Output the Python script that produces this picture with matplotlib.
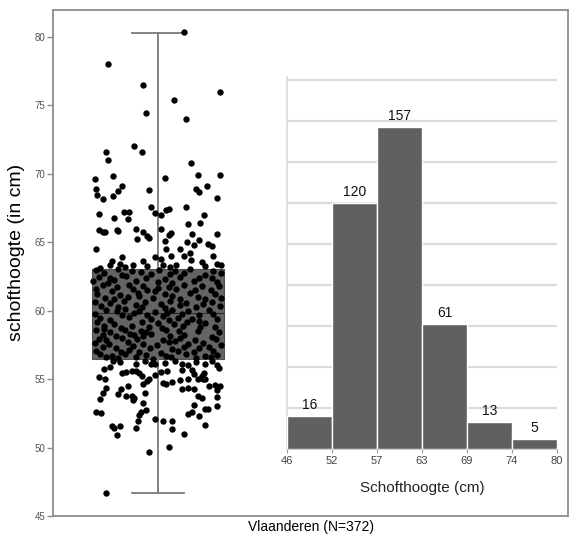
import matplotlib
matplotlib.use('Agg')
import matplotlib.pyplot as plt
import numpy as np

plt.rcParams['font.family'] = ['Liberation Sans', 'DejaVu Sans']

# ---------------- data ----------------
group_label = 'Vlaanderen (N=372)'
y_label = 'schofthoogte (in cm)'
hist_label = 'Schofthoogte (cm)'

# box plot statistics
box_q1, box_median, box_q3 = 56.45, 59.85, 63.05
whisker_low, whisker_high = 46.7, 80.3

# histogram
bin_labels = ['46', '52', '57', '63', '69', '74', '80']
bin_counts = [16, 120, 157, 61, 13, 5]

# individual observations: (height in cm, horizontal jitter in box widths)
dots_high = [
    (80.34, 0.20), (78.0, -0.38), (76.5, -0.11), (75.96, 0.47), (75.4, 0.12),
    (74.4, -0.09), (74.0, 0.21), (72.04, -0.18), (71.6, -0.39), (71.6, -0.12),
    (71.0, -0.38), (70.77, 0.25),
    (69.58, -0.48), (69.8, -0.34), (69.68, 0.05), (69.9, 0.30), (69.9, 0.47),
    (68.92, -0.47), (68.46, -0.46), (68.17, -0.42), (68.39, -0.34), (68.73, -0.30),
    (69.14, -0.27), (68.8, -0.07), (68.92, 0.29), (68.63, 0.31), (69.07, 0.37),
    (68.26, 0.45),
    (67.05, -0.45), (66.76, -0.33), (67.17, -0.26), (67.17, -0.22), (66.73, -0.23),
    (67.56, -0.05), (67.1, -0.02), (67.0, 0.02), (67.34, 0.06), (67.39, 0.08),
    (67.56, 0.21), (66.3, 0.23), (67.02, 0.35), (66.39, 0.32),
    (65.9, -0.45), (65.78, -0.42), (65.73, -0.40), (65.9, -0.31), (65.83, -0.30),
    (66.0, -0.17), (65.78, -0.11), (65.22, -0.16), (65.48, -0.08), (65.27, -0.07),
    (65.95, 0.02), (65.12, 0.05), (65.55, 0.08), (65.66, 0.10), (65.0, 0.22),
    (64.8, 0.27), (65.15, 0.31), (65.6, 0.26), (65.6, 0.45),
    (64.49, -0.47), (64.49, 0.06), (64.0, 0.10), (64.49, 0.17), (64.24, 0.24),
    (64.88, 0.38), (64.73, 0.41), (63.98, 0.42), (64.0, 0.20), (63.9, -0.02),
    (63.76, 0.02), (63.9, -0.27), (63.59, -0.35), (63.44, -0.29), (63.59, -0.11),
    (63.7, 0.25), (63.54, 0.33), (63.42, 0.45),
    (63.3, -0.36), (63.2, -0.25), (63.35, -0.19), (63.25, -0.08), (63.3, 0.04),
    (63.2, 0.09), (63.35, 0.14), (63.25, 0.36), (63.3, 0.48), (63.15, -0.44),
]

dots_box = [
    (62.95, -0.47), (63.02, -0.30), (62.9, -0.20), (63.0, 0.01), (62.93, 0.13), (63.01, 0.24), (62.88, 0.42),
    (62.75, -0.41), (62.62, -0.27), (62.8, -0.13), (62.7, -0.05), (62.66, 0.09), (62.78, 0.20), (62.6, 0.36), (62.72, 0.48),
    (62.45, -0.45), (62.35, -0.36), (62.5, -0.24), (62.4, -0.09), (62.3, 0.05), (62.48, 0.17), (62.38, 0.31), (62.42, 0.41),
    (62.15, -0.49), (62.05, -0.38), (62.2, -0.17), (62.1, 0.00), (62.0, 0.11), (62.18, 0.27), (62.08, 0.45),
    (61.85, -0.42), (61.75, -0.31), (61.9, -0.22), (61.8, -0.11), (61.7, 0.08), (61.88, 0.20), (61.78, 0.33), (61.82, 0.46),
    (61.55, -0.47), (61.45, -0.35), (61.6, -0.19), (61.5, -0.08), (61.42, -0.02), (61.58, 0.14), (61.48, 0.28), (61.52, 0.40),
    (61.25, -0.46), (61.15, -0.29), (61.3, -0.15), (61.2, 0.05), (61.1, 0.11), (61.28, 0.24), (61.18, 0.43),
    (60.95, -0.40), (60.85, -0.33), (61.0, -0.23), (60.9, -0.04), (60.82, 0.17), (60.98, 0.30), (60.88, 0.36), (60.92, 0.48),
    (60.65, -0.48), (60.55, -0.36), (60.7, -0.26), (60.6, -0.10), (60.52, 0.02), (60.68, 0.09), (60.58, 0.21), (60.62, 0.41),
    (60.35, -0.43), (60.25, -0.30), (60.4, -0.17), (60.3, -0.12), (60.22, 0.05), (60.38, 0.17), (60.28, 0.29), (60.32, 0.47),
    (60.05, -0.39), (59.95, -0.31), (60.1, -0.25), (60.0, -0.14), (59.92, -0.02), (60.08, 0.11), (59.98, 0.23), (60.02, 0.39),
    (59.75, -0.48), (59.65, -0.27), (59.8, -0.18), (59.7, -0.08), (59.62, 0.04), (59.78, 0.18), (59.68, 0.31), (59.72, 0.42),
    (59.45, -0.44), (59.35, -0.36), (59.5, -0.22), (59.4, -0.05), (59.32, 0.08), (59.48, 0.15), (59.38, 0.26), (59.42, 0.45),
    (59.15, -0.46), (59.05, -0.33), (59.2, -0.12), (59.1, 0.00), (59.02, 0.12), (59.18, 0.22), (59.08, 0.36),
    (58.85, -0.41), (58.75, -0.28), (58.9, -0.20), (58.8, -0.07), (58.72, 0.03), (58.88, 0.19), (58.78, 0.32), (58.82, 0.43),
    (58.55, -0.47), (58.45, -0.36), (58.6, -0.25), (58.5, -0.13), (58.42, -0.09), (58.58, 0.06), (58.48, 0.16), (58.52, 0.30), (58.46, 0.46),
    (58.25, -0.42), (58.15, -0.32), (58.3, -0.21), (58.2, -0.18), (58.12, -0.11), (58.28, -0.05), (58.18, 0.09), (58.22, 0.20), (58.1, 0.41),
    (57.95, -0.45), (57.85, -0.39), (58.0, -0.27), (57.9, -0.16), (57.82, 0.04), (57.98, 0.17), (57.88, 0.28), (57.92, 0.44),
    (57.65, -0.48), (57.55, -0.37), (57.7, -0.23), (57.6, -0.11), (57.52, -0.01), (57.68, 0.08), (57.58, 0.23), (57.62, 0.34), (57.5, 0.48),
    (57.35, -0.42), (57.25, -0.32), (57.4, -0.19), (57.3, -0.06), (57.22, 0.11), (57.38, 0.20), (57.28, 0.31), (57.32, 0.39),
    (57.05, -0.47), (56.95, -0.28), (57.1, -0.22), (57.0, -0.14), (56.92, 0.02), (57.08, 0.15), (56.98, 0.27), (57.02, 0.42),
    (56.8, -0.44), (56.7, -0.35), (56.85, -0.25), (56.75, -0.09), (56.68, 0.06), (56.82, 0.21), (56.72, 0.36), (56.78, 0.45),
    (56.6, -0.39), (56.52, -0.30), (56.58, -0.17), (56.5, -0.04), (56.62, 0.10), (56.55, 0.29), (56.6, 0.40),
    (62.25, -0.33), (61.65, 0.00), (61.05, -0.14), (60.45, 0.34), (59.85, 0.07), (59.25, 0.31), (58.65, -0.41), (57.75, 0.13),
]

dots_low = [
    (46.67, -0.39), (49.67, -0.07), (50.03, 0.08), (51.0, 0.20), (50.9, -0.31),
    (51.6, -0.35), (51.4, -0.33), (51.6, -0.29), (51.46, -0.17), (52.1, -0.02),
    (51.95, 0.04), (51.97, 0.11), (51.37, 0.11), (51.63, 0.36), (52.63, -0.47),
    (52.56, -0.43), (51.97, -0.15), (52.4, -0.14), (52.75, -0.09), (52.63, -0.13),
    (52.44, 0.23), (52.63, 0.26), (52.27, 0.31), (52.8, 0.36), (52.8, 0.38),
    (53.0, 0.45), (53.56, -0.44), (53.25, -0.11), (53.1, 0.27), (53.73, -0.24),
    (53.73, -0.20), (53.63, -0.18), (53.48, -0.19), (53.73, 0.30), (53.65, 0.33),
    (53.68, 0.45), (53.97, -0.42), (53.92, -0.30), (53.97, -0.10), (54.26, -0.28),
    (54.46, -0.23), (54.36, -0.39), (54.26, 0.18), (54.33, 0.23), (54.26, 0.27),
    (54.46, 0.39), (54.2, 0.45), (54.5, 0.47), (55.14, -0.45), (55.0, -0.40),
    (54.65, -0.11), (54.87, -0.08), (55.0, -0.07), (54.7, 0.04), (54.65, 0.06),
    (54.8, 0.11), (54.95, 0.17), (55.04, 0.23), (55.02, 0.30), (55.19, 0.33),
    (55.0, 0.34), (55.0, 0.36), (55.43, 0.35), (54.55, 0.43), (55.43, -0.27),
    (55.53, -0.24), (55.58, -0.20), (55.58, -0.17), (55.43, -0.14), (55.24, -0.12),
    (55.3, -0.02), (55.5, 0.02), (55.6, 0.07), (55.72, -0.41), (55.67, 0.18),
    (55.67, 0.26), (55.36, 0.27), (55.8, 0.46), (56.04, 0.45), (56.1, 0.36),
    (56.1, 0.18), (56.1, -0.05), (56.1, -0.02), (56.1, -0.17), (56.3, -0.34),
    (56.25, -0.29), (56.3, -0.10), (56.2, 0.05), (56.35, 0.13), (56.25, 0.29),
    (56.3, 0.41), (55.9, -0.36), (56.0, 0.23),
]

# ---------------- figure ----------------
W, H = 571, 535
fig = plt.figure(figsize=(W / 100, H / 100), dpi=100)
fig.patch.set_facecolor('white')

frame_col = '#8c8c8c'
ax = fig.add_axes([53 / W, 19 / H, 515 / W, 506 / H])
ax.set_xlim(-0.795, 3.106)
ax.set_ylim(45, 81.96)

stats = [dict(med=box_median, q1=box_q1, q3=box_q3,
              whislo=whisker_low, whishi=whisker_high, fliers=[])]
ax.bxp(stats, positions=[0], widths=1.0, showfliers=False, patch_artist=True,
       capwidths=0.4,
       boxprops=dict(facecolor='#646464', edgecolor='#505050', linewidth=0.8),
       medianprops=dict(color='#2a2a2a', linewidth=0.8),
       whiskerprops=dict(color='#7a7a7a', linewidth=1.3),
       capprops=dict(color='#7a7a7a', linewidth=1.3),
       manage_ticks=False)

all_dots = dots_high + dots_box + dots_low
dot_y = np.array([d[0] for d in all_dots])
dot_x = np.array([d[1] for d in all_dots])
ax.scatter(dot_x, dot_y, s=21, color='black', linewidths=0, zorder=4)

for s in ax.spines.values():
    s.set_color(frame_col)
    s.set_linewidth(1.3)
ax.set_xticks([])
ax.set_yticks(np.arange(45, 81, 5))
ax.tick_params(axis='y', length=4, width=1, color=frame_col, labelsize=7,
               labelcolor='#555555', pad=1.5)
ax.set_ylabel(y_label, fontsize=14)
ax.yaxis.set_label_coords(-28 / 515, 0.52)
ax.set_xlabel(group_label, fontsize=10)
ax.xaxis.set_label_coords(0.5, -4 / 506)

# ---------------- inset histogram ----------------
hx = fig.add_axes([287 / W, 86 / H, 270 / W, 372 / H])
hx.set_facecolor('white')
pos = np.arange(len(bin_counts)) + 0.5
hx.bar(pos, bin_counts, width=1.0, color='#606060', edgecolor='white',
       linewidth=1.0, zorder=3)
hx.set_xlim(0, len(bin_counts))
hx.set_ylim(0, 181.5)
hx.set_yticks(np.arange(20, 181, 20))
hx.yaxis.grid(True, color='#dcdcdc', linewidth=1.6)
hx.set_axisbelow(True)
hx.tick_params(axis='y', length=0, labelleft=False)
hx.set_xticks(np.arange(len(bin_labels)))
hx.set_xticklabels(bin_labels)
hx.tick_params(axis='x', length=3, width=0.8, color='#9a9a9a', labelsize=8,
               labelcolor='#444444', pad=2)
for side in ['top', 'right']:
    hx.spines[side].set_visible(False)
hx.spines['left'].set_color('#dcdcdc')
hx.spines['left'].set_linewidth(1.2)
hx.spines['bottom'].set_color('#cfcfcf')
hx.spines['bottom'].set_linewidth(0.8)

for p, c in zip(pos, bin_counts):
    hx.text(p, c + 2, str(c), ha='center', va='bottom', fontsize=10,
            color='#111111')

hx.set_xlabel(hist_label, fontsize=11, color='#222222')
hx.xaxis.set_label_coords(0.5, -32 / 372)

fig.savefig('out.png', dpi=100, facecolor='white')
